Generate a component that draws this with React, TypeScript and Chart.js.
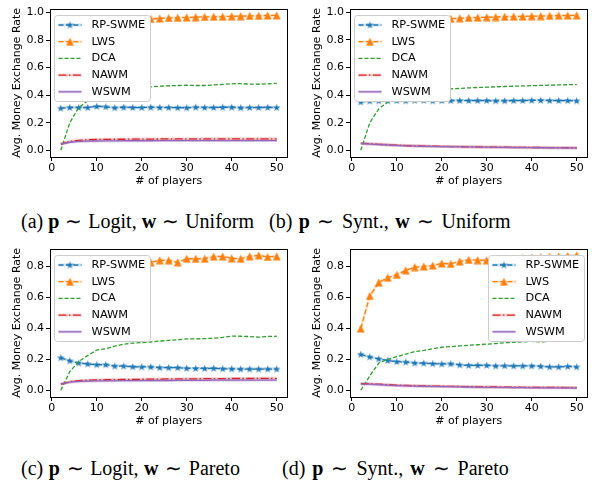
import React, { useEffect, useRef } from 'react';
import { Chart, registerables } from 'chart.js';
Chart.register(...registerables);

// ---------- data ----------
const players = [2, 4, 6, 8, 10, 12, 14, 16, 18, 20, 22, 24, 26, 28, 30, 32, 34, 36, 38, 40, 42, 44, 46, 48, 50];
const xTicks = [0, 10, 20, 30, 40, 50];
const yTicksUniform = [0, 0.2, 0.4, 0.6, 0.8, 1.0];
const yTicksPareto = [0, 0.2, 0.4, 0.6, 0.8];
const seriesNames = ['RP-SWME', 'LWS', 'DCA', 'NAWM', 'WSWM'];

// (a) p ~ Logit, w ~ Uniform
const rpA = [0.305, 0.31, 0.31, 0.31, 0.318, 0.315, 0.308, 0.312, 0.31, 0.31, 0.312, 0.31, 0.31, 0.309, 0.308, 0.312, 0.31, 0.31, 0.312, 0.312, 0.308, 0.31, 0.31, 0.311, 0.31];
const lwsA = [0.82, 0.88, 0.905, 0.92, 0.93, 0.937, 0.942, 0.946, 0.949, 0.951, 0.953, 0.957, 0.96, 0.962, 0.964, 0.966, 0.968, 0.969, 0.97, 0.972, 0.973, 0.975, 0.976, 0.978, 0.979];
const dcaA = [0.0, 0.2, 0.31, 0.36, 0.39, 0.41, 0.43, 0.44, 0.448, 0.455, 0.46, 0.465, 0.468, 0.47, 0.472, 0.47, 0.47, 0.474, 0.478, 0.482, 0.484, 0.48, 0.479, 0.482, 0.486];
const nawmA = [0.045, 0.064, 0.072, 0.076, 0.078, 0.079, 0.08, 0.08, 0.081, 0.081, 0.081, 0.082, 0.082, 0.082, 0.082, 0.082, 0.083, 0.083, 0.083, 0.083, 0.083, 0.083, 0.083, 0.083, 0.083];
const wswmA = [0.045, 0.058, 0.064, 0.066, 0.067, 0.068, 0.068, 0.069, 0.069, 0.069, 0.069, 0.07, 0.07, 0.07, 0.07, 0.07, 0.07, 0.07, 0.07, 0.07, 0.07, 0.07, 0.07, 0.07, 0.07];

// (b) p ~ Synt., w ~ Uniform
const rpB = [0.35, 0.357, 0.358, 0.358, 0.36, 0.358, 0.362, 0.362, 0.358, 0.36, 0.36, 0.36, 0.36, 0.36, 0.36, 0.358, 0.358, 0.36, 0.36, 0.362, 0.362, 0.36, 0.36, 0.36, 0.358];
const lwsB = [0.8, 0.87, 0.9, 0.915, 0.927, 0.935, 0.94, 0.945, 0.948, 0.951, 0.953, 0.957, 0.96, 0.962, 0.964, 0.966, 0.968, 0.969, 0.97, 0.972, 0.973, 0.975, 0.976, 0.977, 0.978];
const dcaB = [0.0, 0.2, 0.3, 0.35, 0.38, 0.4, 0.415, 0.425, 0.435, 0.44, 0.445, 0.448, 0.452, 0.455, 0.457, 0.46, 0.462, 0.464, 0.466, 0.468, 0.47, 0.472, 0.474, 0.475, 0.476];
const nawmB = [0.05, 0.047, 0.043, 0.04, 0.037, 0.034, 0.032, 0.03, 0.029, 0.028, 0.027, 0.026, 0.025, 0.024, 0.023, 0.023, 0.022, 0.021, 0.021, 0.02, 0.02, 0.019, 0.019, 0.018, 0.018];
const wswmB = [0.049, 0.045, 0.041, 0.038, 0.035, 0.032, 0.03, 0.029, 0.028, 0.027, 0.026, 0.025, 0.024, 0.023, 0.022, 0.021, 0.021, 0.02, 0.019, 0.019, 0.018, 0.018, 0.017, 0.017, 0.016];

// (c) p ~ Logit, w ~ Pareto
const rpC = [0.21, 0.19, 0.176, 0.17, 0.165, 0.165, 0.156, 0.156, 0.152, 0.151, 0.151, 0.146, 0.146, 0.146, 0.142, 0.141, 0.141, 0.142, 0.139, 0.138, 0.137, 0.137, 0.137, 0.137, 0.137];
const lwsC = [0.45, 0.6, 0.68, 0.72, 0.75, 0.77, 0.785, 0.8, 0.81, 0.815, 0.827, 0.84, 0.84, 0.827, 0.85, 0.85, 0.85, 0.864, 0.865, 0.853, 0.85, 0.866, 0.872, 0.862, 0.866];
const dcaC = [0.0, 0.12, 0.186, 0.225, 0.26, 0.268, 0.285, 0.298, 0.304, 0.308, 0.312, 0.318, 0.322, 0.326, 0.332, 0.332, 0.334, 0.336, 0.342, 0.35, 0.349, 0.347, 0.343, 0.348, 0.349];
const nawmC = [0.04, 0.055, 0.062, 0.065, 0.067, 0.068, 0.069, 0.07, 0.07, 0.071, 0.072, 0.072, 0.073, 0.073, 0.074, 0.074, 0.075, 0.075, 0.075, 0.076, 0.076, 0.076, 0.077, 0.077, 0.077];
const wswmC = [0.04, 0.052, 0.057, 0.059, 0.06, 0.061, 0.061, 0.062, 0.062, 0.062, 0.063, 0.063, 0.063, 0.064, 0.064, 0.064, 0.064, 0.065, 0.065, 0.065, 0.065, 0.065, 0.066, 0.066, 0.066];

// (d) p ~ Synt., w ~ Pareto
const rpD = [0.232, 0.215, 0.203, 0.192, 0.185, 0.182, 0.176, 0.175, 0.172, 0.17, 0.171, 0.164, 0.161, 0.161, 0.161, 0.157, 0.158, 0.157, 0.157, 0.157, 0.155, 0.151, 0.151, 0.154, 0.151];
const lwsD = [0.399, 0.61, 0.697, 0.728, 0.746, 0.775, 0.796, 0.8, 0.806, 0.82, 0.817, 0.833, 0.843, 0.841, 0.84, 0.845, 0.85, 0.852, 0.855, 0.858, 0.86, 0.862, 0.865, 0.868, 0.872];
const dcaD = [0.0, 0.093, 0.176, 0.2, 0.217, 0.234, 0.25, 0.258, 0.268, 0.278, 0.282, 0.287, 0.291, 0.294, 0.298, 0.302, 0.307, 0.31, 0.313, 0.316, 0.312, 0.317, 0.32, 0.322, 0.324];
const nawmD = [0.043, 0.042, 0.039, 0.036, 0.033, 0.031, 0.029, 0.028, 0.027, 0.026, 0.025, 0.024, 0.023, 0.022, 0.021, 0.021, 0.02, 0.02, 0.019, 0.019, 0.018, 0.018, 0.018, 0.017, 0.017];
const wswmD = [0.04, 0.039, 0.036, 0.033, 0.03, 0.028, 0.027, 0.026, 0.025, 0.024, 0.023, 0.022, 0.021, 0.02, 0.019, 0.019, 0.018, 0.017, 0.017, 0.016, 0.016, 0.015, 0.015, 0.015, 0.014];

const captionLabels = ['(a)', '(b)', '(c)', '(d)'];
const pDists = ['Logit', 'Synt.', 'Logit', 'Synt.'];
const wDists = ['Uniform', 'Uniform', 'Pareto', 'Pareto'];

// ---------- styles ----------
const COLORS = ['#1f77b4', '#ff7f0e', '#2ca02c', '#d62728', '#9467bd'];
const BANDS = ['rgba(31,119,180,0.2)', 'rgba(255,127,14,0.18)', null, 'rgba(214,39,40,0.22)', 'rgba(148,103,189,0.28)'];
const DASHES = [[5, 2.4], [5, 2.4], [4, 2], [8, 2.4, 1.5, 2.4], []];
const FONT = '"DejaVu Sans", sans-serif';

function makeStar(color: string) {
  const c = document.createElement('canvas');
  c.width = 9; c.height = 9;
  const ctx = c.getContext('2d')!;
  const cx = 4.5, cy = 4.8, R = 4.1, r = R * 0.382;
  ctx.beginPath();
  for (let i = 0; i < 10; i++) {
    const a = -Math.PI / 2 + (i * Math.PI) / 5;
    const rad = i % 2 === 0 ? R : r;
    ctx.lineTo(cx + rad * Math.cos(a), cy + rad * Math.sin(a));
  }
  ctx.closePath();
  ctx.fillStyle = color;
  ctx.fill();
  return c;
}
function makeTriangle(color: string) {
  const c = document.createElement('canvas');
  c.width = 9; c.height = 9;
  const ctx = c.getContext('2d')!;
  ctx.beginPath();
  ctx.moveTo(4.5, 0.6);
  ctx.lineTo(8.4, 8.4);
  ctx.lineTo(0.6, 8.4);
  ctx.closePath();
  ctx.fillStyle = color;
  ctx.fill();
  return c;
}

const decorPlugin = {
  id: 'decor',
  afterDatasetsDraw(chart: any, _args: any, opts: any) {
    const { ctx, chartArea } = chart;
    ctx.save();
    ctx.strokeStyle = '#000';
    ctx.lineWidth = 1;
    ctx.setLineDash([]);
    ctx.strokeRect(Math.round(chartArea.left) + 0.5, Math.round(chartArea.top) + 0.5,
      Math.round(chartArea.right - chartArea.left) - 1, Math.round(chartArea.bottom - chartArea.top));
    // legend
    const w = 96, h = 86;
    const x = Math.round(opts.pos === 'right' ? chartArea.right - 4 - w : chartArea.left + 4) + 0.5;
    const y = Math.round(chartArea.top + 6) + 0.5;
    ctx.beginPath();
    const rr = 3;
    ctx.moveTo(x + rr, y);
    ctx.arcTo(x + w, y, x + w, y + h, rr);
    ctx.arcTo(x + w, y + h, x, y + h, rr);
    ctx.arcTo(x, y + h, x, y, rr);
    ctx.arcTo(x, y, x + w, y, rr);
    ctx.closePath();
    ctx.fillStyle = '#ffffff';
    ctx.fill();
    ctx.strokeStyle = '#cccccc';
    ctx.lineWidth = 1;
    ctx.stroke();
    (opts.entries as any[]).forEach((e, i) => {
      const ry = y + 9.5 + i * 16.7;
      if (e.band) {
        ctx.setLineDash([]);
        ctx.strokeStyle = e.band;
        ctx.lineWidth = 3;
        ctx.beginPath(); ctx.moveTo(x + 4, ry); ctx.lineTo(x + 27, ry); ctx.stroke();
      }
      ctx.setLineDash(e.dash);
      ctx.strokeStyle = e.color;
      ctx.lineWidth = 1.3;
      ctx.beginPath(); ctx.moveTo(x + 4, ry); ctx.lineTo(x + 27, ry); ctx.stroke();
      if (e.marker) ctx.drawImage(e.marker, x + 15.5 - e.marker.width / 2, ry - e.marker.height / 2);
      ctx.fillStyle = '#000';
      ctx.font = '11.3px ' + FONT;
      ctx.textBaseline = 'middle';
      ctx.textAlign = 'left';
      ctx.fillText(e.label, x + 37, ry);
    });
    ctx.restore();
  },
};

type PanelProps = { series: number[][]; yTicks: number[]; legendPos: 'left' | 'right'; top: number; left: number; padTop: number };

function Panel({ series, yTicks, legendPos, top, left, padTop }: PanelProps) {
  const ref = useRef<HTMLCanvasElement>(null);
  useEffect(() => {
    if (!ref.current) return;
    const markers = [makeStar(COLORS[0]), makeTriangle(COLORS[1]), null, null, null];
    const all = series.flat();
    const ymin = Math.min(...all), ymax = Math.max(...all);
    const yr = ymax - ymin;
    const xmin = Math.min(...players), xmax = Math.max(...players);
    const xr = xmax - xmin;
    const datasets: any[] = [];
    series.forEach((arr, si) => {
      const pts = players.map((p, i) => ({ x: p, y: arr[i] }));
      if (BANDS[si]) {
        datasets.push({ data: pts, borderColor: BANDS[si], borderWidth: 3, pointRadius: 0, order: 20, tension: 0, fill: false });
      }
      datasets.push({
        label: seriesNames[si], data: pts, borderColor: COLORS[si], backgroundColor: COLORS[si],
        borderWidth: 1.3, borderDash: DASHES[si], tension: 0, fill: false,
        pointRadius: markers[si] ? 4 : 0, pointStyle: markers[si] || 'circle', order: 10 - si,
      });
    });
    const entries = seriesNames.map((n, si) => ({ label: n, color: COLORS[si], dash: DASHES[si], marker: markers[si], band: BANDS[si] }));
    const chart = new Chart(ref.current, {
      type: 'line',
      data: { datasets },
      plugins: [decorPlugin],
      options: {
        animation: false,
        responsive: false,
        events: [],
        layout: { padding: { left: 0, right: 12.5, top: padTop, bottom: 0 } },
        plugins: { legend: { display: false }, tooltip: { enabled: false }, decor: { pos: legendPos, entries } } as any,
        scales: {
          x: {
            type: 'linear', min: xmin - 0.05 * xr, max: xmax + 0.05 * xr,
            afterBuildTicks: (s: any) => { s.ticks = xTicks.map((v) => ({ value: v })); },
            afterFit: (s: any) => { s.height = 33; },
            grid: { drawOnChartArea: false, drawTicks: true, tickLength: 4, tickColor: '#000', tickWidth: 1 },
            border: { display: false },
            ticks: { color: '#000', font: { family: FONT, size: 11 }, padding: 1, maxRotation: 0, autoSkip: false, callback: (v: any) => String(v) },
            title: { display: true, text: '# of players', color: '#000', font: { family: FONT, size: 11 }, padding: { top: 0, bottom: 2 } },
          },
          y: {
            type: 'linear', min: ymin - 0.05 * yr, max: ymax + 0.05 * yr,
            afterBuildTicks: (s: any) => { s.ticks = yTicks.map((v) => ({ value: v })); },
            afterFit: (s: any) => { s.width = 50; },
            grid: { drawOnChartArea: false, drawTicks: true, tickLength: 4, tickColor: '#000', tickWidth: 1 },
            border: { display: false },
            ticks: { color: '#000', font: { family: FONT, size: 11 }, padding: 2, autoSkip: false, callback: (v: any) => Number(v).toFixed(1) },
            title: { display: true, text: 'Avg. Money Exchange Rate', color: '#000', font: { family: FONT, size: 11 }, padding: { top: 11, bottom: 0 } },
          },
        },
      } as any,
    });
    return () => chart.destroy();
  }, []);
  return <canvas ref={ref} width={300} height={190} style={{ position: 'absolute', left, top, width: 300, height: 190 }} />;
}

function Caption({ idx, left, top, spacing }: { idx: number; left: number; top: number; spacing: number }) {
  return (
    <div style={{ position: 'absolute', left, top, fontFamily: '"Liberation Serif", "Times New Roman", serif', fontSize: 20, lineHeight: '20px', whiteSpace: 'nowrap', color: '#000', wordSpacing: spacing }}>
      {captionLabels[idx]} <b>p</b> <span style={{ margin: '0 1px' }}>∼</span> {pDists[idx]}, <b>w</b> <span style={{ margin: '0 1px' }}>∼</span> {wDists[idx]}
    </div>
  );
}

export default function App() {
  return (
    <div style={{ position: 'absolute', left: 0, top: 0, width: 601, height: 480, background: '#fff', overflow: 'hidden' }}>
      <Panel series={[rpA, lwsA, dcaA, nawmA, wswmA]} yTicks={yTicksUniform} legendPos="left" top={0} left={0} padTop={2} />
      <Panel series={[rpB, lwsB, dcaB, nawmB, wswmB]} yTicks={yTicksUniform} legendPos="left" top={0} left={300} padTop={2} />
      <Panel series={[rpC, lwsC, dcaC, nawmC, wswmC]} yTicks={yTicksPareto} legendPos="left" top={240} left={0} padTop={4} />
      <Panel series={[rpD, lwsD, dcaD, nawmD, wswmD]} yTicks={yTicksPareto} legendPos="right" top={240} left={300} padTop={4} />
      <Caption idx={0} left={21} top={211} spacing={0} />
      <Caption idx={1} left={269} top={211} spacing={1.5} />
      <Caption idx={2} left={21} top={458} spacing={0.6} />
      <Caption idx={3} left={282} top={458} spacing={2} />
    </div>
  );
}
